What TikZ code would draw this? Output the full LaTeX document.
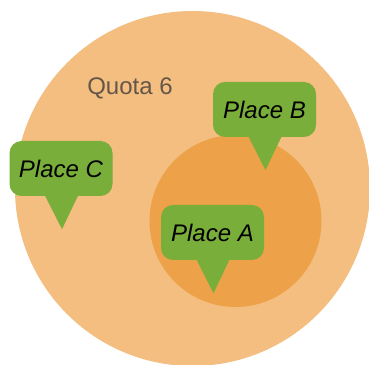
\documentclass[tikz,border=0pt]{standalone}
\usepackage{fontspec}
\setmainfont{Liberation Sans}
\usepackage{tikz}
\usetikzlibrary{calc, positioning}
\definecolor{quotaout}{RGB}{243,190,128}
\definecolor{quotain}{RGB}{237,162,74}
\definecolor{placegreen}{RGB}{122,174,58}
\definecolor{quotatext}{RGB}{100,86,72}
\tikzset{ place/.style = {fill=placegreen, rounded corners=12pt, minimum height=55pt, minimum width=103pt, inner sep=0pt, font=\fontsize{24}{28}\selectfont\itshape} }

\begin{document}
\begin{tikzpicture}[x=1pt, y=1pt]
  \useasboundingbox (0,0) rectangle (369,364);
  \clip (0,0) rectangle (369,364);
  \fill[quotaout] (192.5,175.5) circle (177.5);
  \fill[quotain] (235.5,143) circle (86);
  \node[text=quotatext, font=\fontsize{24}{28}\selectfont] (quota) at (130,276) {Quota 6};

  \path (264.5,254.5) node[place] (plb) {Place B}
        (61,195.5) node[place] (plc) {Place C}
        (212.5,131.5) node[place] (pla) {Place A};

  \foreach \p in {pla, plb, plc}
    \fill[placegreen] ($(\p.south)+(-16,0.5)$) -- ($(\p.south)+(1,-33)$) -- ($(\p.south)+(17,0.5)$) -- cycle;
\end{tikzpicture}
\end{document}
